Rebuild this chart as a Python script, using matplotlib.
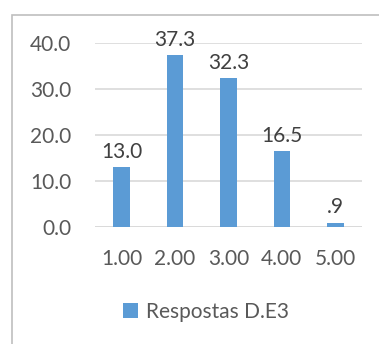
import matplotlib.pyplot as plt
from matplotlib.patches import Rectangle

categories = ['1.00', '2.00', '3.00', '4.00', '5.00']
values = [13.0, 37.3, 32.3, 16.5, 0.9]
series_name = 'Respostas D.E3'

bar_color = '#5B9BD5'
text_color = '#595959'
grid_color = '#D9D9D9'

plt.rcParams['font.family'] = ['Lato', 'DejaVu Sans']

fig = plt.figure(figsize=(3.79, 3.44), dpi=100)
fig.patch.set_facecolor('white')

# outer chart frame (runs off the right and bottom edges)
fig.patches.append(Rectangle((12 / 379, -0.1), 1.2, 0.1 + 1 - 15 / 344,
                             transform=fig.transFigure, fill=False,
                             edgecolor='#BFBFBF', linewidth=1.2))

ax = fig.add_axes([95 / 379, 1 - 227 / 344, 267 / 379, 184 / 344])
x = range(len(categories))
bars = ax.bar(x, values, width=0.31, color=bar_color, label=series_name, zorder=3)

for xi, v in zip(x, values):
    txt = f'{v:.1f}'
    if txt.startswith('0'):
        txt = txt[1:]
    ax.annotate(txt, (xi, v), xytext=(0, 4), textcoords='offset points',
                ha='center', va='bottom', fontsize=15, color='#404040')

ax.set_xlim(-0.5, len(categories) - 0.5)
ax.set_ylim(0, 40)
ax.set_yticks([0, 10, 20, 30, 40])
ax.set_yticklabels([f'{t:.1f}' for t in [0, 10, 20, 30, 40]])
ax.set_xticks(list(x))
ax.set_xticklabels(categories)
ax.tick_params(axis='both', length=0, labelsize=15, labelcolor=text_color)
ax.tick_params(axis='y', pad=17)
ax.tick_params(axis='x', pad=16)
ax.yaxis.grid(True, color=grid_color, linewidth=1.2, zorder=0)
for s in ax.spines.values():
    s.set_visible(False)
ax.axhline(0, color=grid_color, linewidth=1.2, zorder=1)

fig.legend(handles=[bars], labels=[series_name], loc='center',
           bbox_to_anchor=(206 / 379, 1 - 312 / 344), frameon=False,
           fontsize=15, labelcolor=text_color, handlelength=0.7,
           handleheight=0.7, handletextpad=0.4)

fig.savefig('out.png', dpi=100)
